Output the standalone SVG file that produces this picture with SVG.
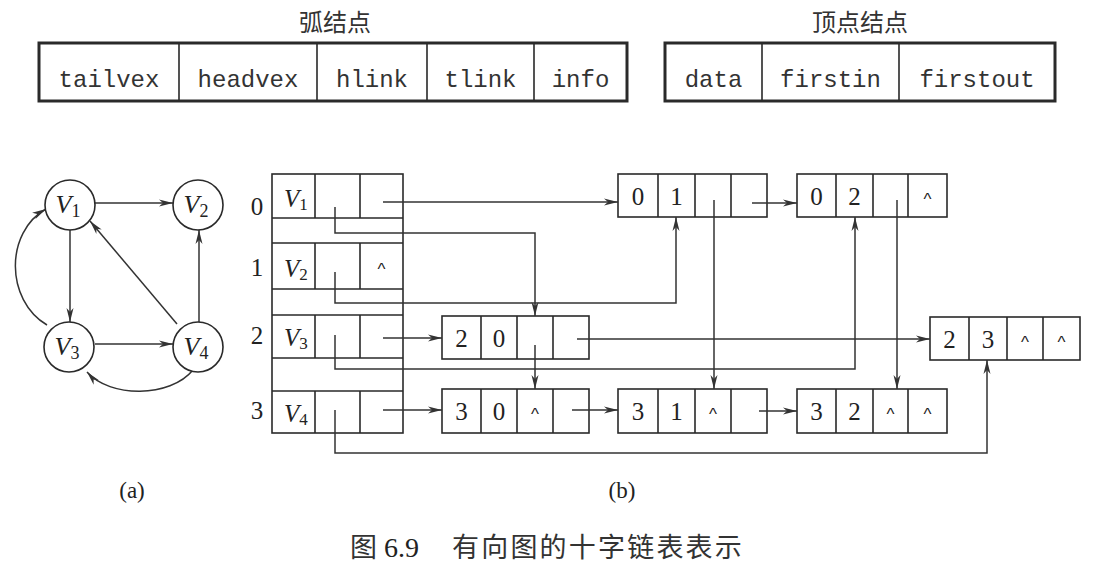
<svg xmlns="http://www.w3.org/2000/svg" width="1093" height="573" viewBox="0 0 1093 573">
<style>
.bg{fill:#fff}
.box{fill:#fff;stroke:#2a2a2a;stroke-width:1.6}
.tbox{fill:#fff;stroke:#2a2a2a;stroke-width:3}
.div{stroke:#2a2a2a;stroke-width:1.6;fill:none}
.mono{font-family:"Liberation Mono",monospace;font-size:24px;fill:#333;text-anchor:middle}
.cjk{font-family:"Noto Sans CJK SC",sans-serif;fill:#333}
.num{font-family:"Liberation Serif",serif;font-size:25px;fill:#222;text-anchor:middle}
.car{font-family:"Liberation Sans",sans-serif;font-size:17px;fill:#222;text-anchor:middle}
.vl{font-family:"Liberation Serif",serif;fill:#222}
.it{font-style:italic}
.ln{fill:none;stroke:#333;stroke-width:1.5}
.arr{fill:none;stroke:#333;stroke-width:1.5;marker-end:url(#ah)}
.circ{fill:#fff;stroke:#2a2a2a;stroke-width:1.6}
</style>
<defs>
<marker id="ah" viewBox="0 0 14 8" refX="14" refY="4" markerWidth="14" markerHeight="8" markerUnits="userSpaceOnUse" orient="auto">
<path d="M0,0.5 L14,4 L0,7.5 L4,4 Z" fill="#333"/>
</marker>
</defs>
<rect class="bg" x="0" y="0" width="1093" height="573"/>

<!-- arc node format -->
<g id="arc-format">
<text class="cjk" x="335" y="31" font-size="24" text-anchor="middle">弧结点</text>
<rect class="tbox" x="39" y="43" width="588" height="58"/>
<path class="div" d="M179,43V101M317,43V101M427,43V101M534,43V101"/>
<text class="mono" x="109" y="87">tailvex</text>
<text class="mono" x="248" y="87">headvex</text>
<text class="mono" x="372" y="87">hlink</text>
<text class="mono" x="480.5" y="87">tlink</text>
<text class="mono" x="580.5" y="87">info</text>
</g>

<!-- vertex node format -->
<g id="vertex-format">
<text class="cjk" x="860" y="31" font-size="24" text-anchor="middle">顶点结点</text>
<rect class="tbox" x="665" y="43" width="390" height="58"/>
<path class="div" d="M762,43V101M899,43V101"/>
<text class="mono" x="713.5" y="87">data</text>
<text class="mono" x="830.5" y="87">firstin</text>
<text class="mono" x="977" y="87">firstout</text>
</g>

<!-- (a) graph -->
<g id="graph-edges">
<path class="arr" d="M95,203H173"/>
<path class="arr" d="M70,230V322"/>
<path class="arr" d="M95,344H173"/>
<path class="arr" d="M199,322V230"/>
<path class="arr" d="M177,324L90,221"/>
<path class="arr" d="M47,325C5,300 5,232 46,209"/>
<path class="arr" d="M193,370C170,398 110,398 87,372"/>
</g>
<g id="gv1"><circle class="circ" cx="70" cy="205" r="25"/><text class="vl" x="68" y="213" font-size="26" text-anchor="middle"><tspan class="it">V</tspan><tspan font-size="18" dy="4">1</tspan></text></g>
<g id="gv2"><circle class="circ" cx="198" cy="205" r="25"/><text class="vl" x="196" y="213" font-size="26" text-anchor="middle"><tspan class="it">V</tspan><tspan font-size="18" dy="4">2</tspan></text></g>
<g id="gv3"><circle class="circ" cx="69" cy="347" r="25"/><text class="vl" x="67" y="355" font-size="26" text-anchor="middle"><tspan class="it">V</tspan><tspan font-size="18" dy="4">3</tspan></text></g>
<g id="gv4"><circle class="circ" cx="198" cy="347" r="25"/><text class="vl" x="196" y="355" font-size="26" text-anchor="middle"><tspan class="it">V</tspan><tspan font-size="18" dy="4">4</tspan></text></g>
<text class="vl" x="132" y="498" font-size="23" text-anchor="middle">(a)</text>

<!-- (b) vertex table -->
<g id="vertex-table">
<rect class="box" x="272" y="174" width="131" height="259"/>
<path class="div" d="M272,218H403M272,243H403M272,289H403M272,315H403M272,358H403M272,391H403"/>
<path class="div" d="M315,174V218M360,174V218M315,243V289M360,243V289M315,315V358M360,315V358M315,391V433M360,391V433"/>
<text class="num" x="257" y="215" font-size="24">0</text>
<text class="num" x="257" y="276" font-size="24">1</text>
<text class="num" x="257" y="344" font-size="24">2</text>
<text class="num" x="257" y="419" font-size="24">3</text>
<text class="vl" x="284" y="207" font-size="25"><tspan class="it">V</tspan><tspan font-size="17" dy="3">1</tspan></text>
<text class="vl" x="284" y="277" font-size="25"><tspan class="it">V</tspan><tspan font-size="17" dy="3">2</tspan></text>
<text class="vl" x="284" y="346" font-size="25"><tspan class="it">V</tspan><tspan font-size="17" dy="3">3</tspan></text>
<text class="vl" x="284" y="422" font-size="25"><tspan class="it">V</tspan><tspan font-size="17" dy="3">4</tspan></text>
<text class="car" x="381.5" y="275">^</text>
</g>

<!-- arc nodes -->
<g id="arc-01">
<rect class="box" x="618" y="174" width="149" height="43"/>
<path class="div" d="M658,174V217M695,174V217M731,174V217"/>
<text class="num" x="638" y="205">0</text><text class="num" x="676.5" y="205">1</text>
</g>
<g id="arc-02">
<rect class="box" x="797" y="174" width="150" height="43"/>
<path class="div" d="M836,174V217M873,174V217M908,174V217"/>
<text class="num" x="816.5" y="205">0</text><text class="num" x="854.5" y="205">2</text>
<text class="car" x="927.5" y="205">^</text>
</g>
<g id="arc-20">
<rect class="box" x="442" y="316" width="147" height="43"/>
<path class="div" d="M481,316V359M517,316V359M553,316V359"/>
<text class="num" x="461.5" y="347">2</text><text class="num" x="499" y="347">0</text>
</g>
<g id="arc-23">
<rect class="box" x="930" y="317" width="150" height="43"/>
<path class="div" d="M969,317V360M1007,317V360M1043,317V360"/>
<text class="num" x="949.5" y="348">2</text><text class="num" x="988" y="348">3</text>
<text class="car" x="1025" y="348">^</text><text class="car" x="1061.5" y="348">^</text>
</g>
<g id="arc-30">
<rect class="box" x="442" y="389" width="147" height="44"/>
<path class="div" d="M481,389V433M517,389V433M553,389V433"/>
<text class="num" x="461.5" y="420">3</text><text class="num" x="499" y="420">0</text>
<text class="car" x="535" y="420">^</text>
</g>
<g id="arc-31">
<rect class="box" x="618" y="389" width="149" height="44"/>
<path class="div" d="M658,389V433M695,389V433M731,389V433"/>
<text class="num" x="638" y="420">3</text><text class="num" x="676.5" y="420">1</text>
<text class="car" x="713" y="420">^</text>
</g>
<g id="arc-32">
<rect class="box" x="797" y="389" width="150" height="44"/>
<path class="div" d="M836,389V433M873,389V433M908,389V433"/>
<text class="num" x="816.5" y="420">3</text><text class="num" x="854.5" y="420">2</text>
<text class="car" x="890.5" y="420">^</text><text class="car" x="927.5" y="420">^</text>
</g>

<!-- connectors -->
<g id="connectors">
<path class="arr" d="M383,202H618"/>
<path class="arr" d="M335,207V233H535V316"/>
<path class="arr" d="M335,272V303H676V217"/>
<path class="arr" d="M383,338H442"/>
<path class="arr" d="M335,335V369H855V217"/>
<path class="arr" d="M383,410H442"/>
<path class="arr" d="M335,410V453H987V360"/>
<path class="arr" d="M752,203H797"/>
<path class="arr" d="M714,200V389"/>
<path class="arr" d="M897,200V389"/>
<path class="arr" d="M535,345V389"/>
<path class="arr" d="M577,339H930"/>
<path class="arr" d="M572,410H618"/>
<path class="arr" d="M759,411H797"/>
</g>
<text class="vl" x="622" y="498" font-size="23" text-anchor="middle">(b)</text>

<!-- caption -->
<g id="caption">
<text class="cjk" x="350" y="557" font-size="27">图</text>
<text class="vl" x="384" y="557" font-size="28" fill="#333">6.9</text>
<text class="cjk" x="452" y="557" font-size="27" letter-spacing="2.2">有向图的十字链表表示</text>
</g>
</svg>
